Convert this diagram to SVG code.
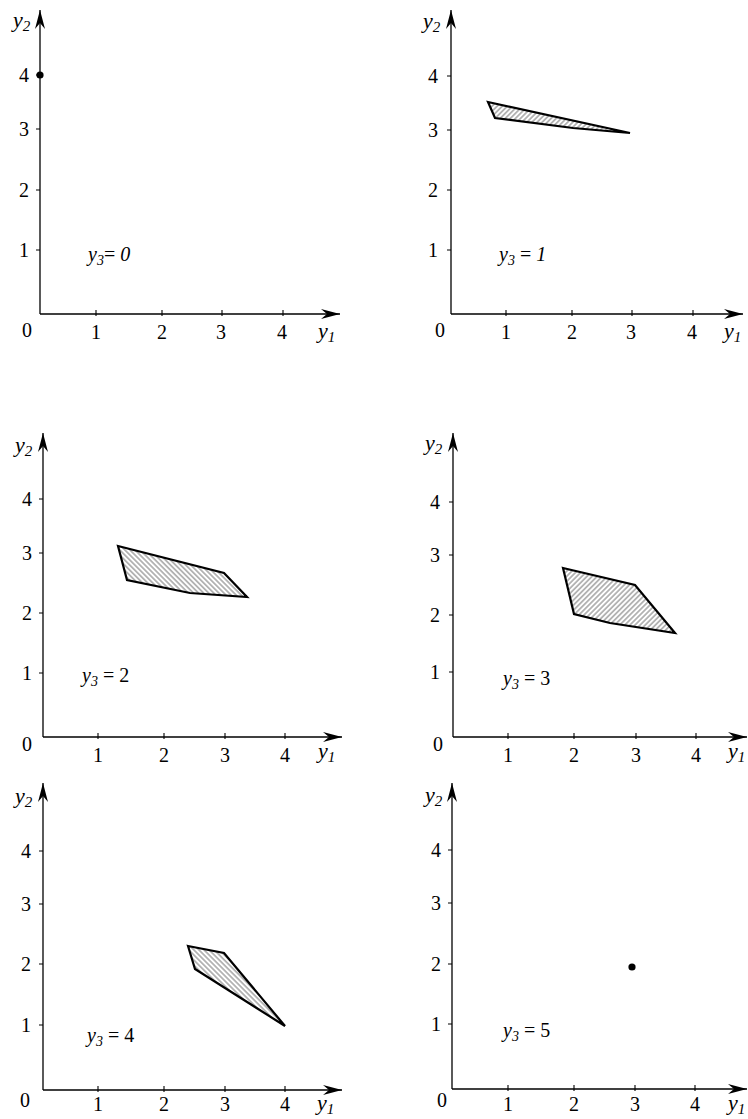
<svg xmlns="http://www.w3.org/2000/svg" width="748" height="1119" viewBox="0 0 748 1119" font-family="Liberation Serif, serif">
<style>
.ax{stroke:#000;stroke-width:1.3;fill:none}
.tk{stroke:#000;stroke-width:1.1}
.arr{marker-end:url(#ah)}
.num{font-size:20px;fill:#000}
.c{text-anchor:middle}
.var{font-size:22px;font-style:italic;fill:#000}
.lab{font-size:20px;fill:#000}
.poly{stroke:#000;stroke-width:2.2;stroke-linejoin:miter}
.h1{fill:url(#hatchF)}
.h2{fill:url(#hatchB)}
</style>
<defs>
<marker id="ah" markerUnits="userSpaceOnUse" markerWidth="22" markerHeight="12" viewBox="-20 -6 22 12" refX="0" refY="0" orient="auto">
<path d="M0,0 L-19,-5 L-13,0 L-19,5 Z" fill="#000"/>
</marker>
<pattern id="hatchF" patternUnits="userSpaceOnUse" width="3.6" height="3.6" patternTransform="rotate(45)">
<line x1="1.8" y1="0" x2="1.8" y2="3.6" stroke="#666" stroke-width="0.9"/>
</pattern>
<pattern id="hatchB" patternUnits="userSpaceOnUse" width="3.6" height="3.6" patternTransform="rotate(-45)">
<line x1="1.8" y1="0" x2="1.8" y2="3.6" stroke="#666" stroke-width="0.9"/>
</pattern>
</defs>
<rect width="748" height="1119" fill="#fff"/>

<g id="panel-y3-0">
<g id="axes-1">
<line class="ax arr" x1="40" y1="314" x2="40" y2="10"/>
<line class="ax arr" x1="40" y1="314" x2="340" y2="314"/>
<path class="tk" d="M96,310V316M162,310V316M222,310V316M283,310V316M36,250H40M36,190H40M36,129H40M36,75H40"/>
</g>
<text class="var" x="13" y="27">y<tspan font-size="15" dy="4">2</tspan></text>
<text class="var" x="318" y="338">y<tspan font-size="15" dy="4">1</tspan></text>
<text class="num c" x="27" y="337">0</text>
<text class="num c" x="96" y="339">1</text>
<text class="num c" x="162" y="339">2</text>
<text class="num c" x="221" y="339">3</text>
<text class="num c" x="282" y="339">4</text>
<text class="num c" x="24" y="257">1</text>
<text class="num c" x="24" y="197">2</text>
<text class="num c" x="24" y="136">3</text>
<text class="num c" x="24" y="82">4</text>
<circle cx="40" cy="75" r="3.6" fill="#000"/>
<text class="lab" x="88" y="261"><tspan font-style="italic">y</tspan><tspan font-size="14" font-style="italic" dy="4">3</tspan><tspan dy="-4">= </tspan><tspan font-style="italic">0</tspan></text>
</g>

<g id="panel-y3-1">
<g id="axes-2">
<line class="ax arr" x1="451" y1="314" x2="451" y2="10"/>
<line class="ax arr" x1="451" y1="314" x2="743" y2="314"/>
<path class="tk" d="M506,310V316M572,310V316M632,310V316M693,310V316M447,250H451M447,190H451M447,130H451M447,76H451"/>
</g>
<text class="var" x="423" y="28">y<tspan font-size="15" dy="4">2</tspan></text>
<text class="var" x="724" y="338">y<tspan font-size="15" dy="4">1</tspan></text>
<text class="num c" x="440" y="337">0</text>
<text class="num c" x="506" y="339">1</text>
<text class="num c" x="572" y="339">2</text>
<text class="num c" x="631" y="339">3</text>
<text class="num c" x="692" y="339">4</text>
<text class="num c" x="433" y="257">1</text>
<text class="num c" x="433" y="197">2</text>
<text class="num c" x="433" y="137">3</text>
<text class="num c" x="433" y="83">4</text>
<polygon class="poly h1" points="488,102 630,133 573,128 495,118"/>
<text class="lab" x="499" y="261"><tspan font-style="italic">y</tspan><tspan font-size="14" font-style="italic" dy="4">3</tspan><tspan dy="-4"> = </tspan><tspan font-style="italic">1</tspan></text>
</g>

<g id="panel-y3-2">
<g id="axes-3">
<line class="ax arr" x1="43" y1="737" x2="43" y2="433"/>
<line class="ax arr" x1="43" y1="737" x2="342" y2="737"/>
<path class="tk" d="M98,733V739M164,733V739M225,733V739M285,733V739M39,673H43M39,613H43M39,553H43M39,499H43"/>
</g>
<text class="var" x="15" y="452">y<tspan font-size="15" dy="4">2</tspan></text>
<text class="var" x="318" y="758">y<tspan font-size="15" dy="4">1</tspan></text>
<text class="num c" x="27" y="751">0</text>
<text class="num c" x="98" y="762">1</text>
<text class="num c" x="164" y="762">2</text>
<text class="num c" x="225" y="762">3</text>
<text class="num c" x="285" y="762">4</text>
<text class="num c" x="27" y="680">1</text>
<text class="num c" x="27" y="620">2</text>
<text class="num c" x="27" y="560">3</text>
<text class="num c" x="27" y="506">4</text>
<polygon class="poly h2" points="118,546 224,573 247,597 190,593 127,580"/>
<text class="lab" x="82" y="682"><tspan font-style="italic">y</tspan><tspan font-size="14" font-style="italic" dy="4">3</tspan><tspan dy="-4"> = 2</tspan></text>
</g>

<g id="panel-y3-3">
<g id="axes-4">
<line class="ax arr" x1="453" y1="737" x2="453" y2="433"/>
<line class="ax arr" x1="453" y1="737" x2="747" y2="737"/>
<path class="tk" d="M508,733V739M574,733V739M636,733V739M696,733V739M449,672H453M449,615H453M449,555H453M449,502H453"/>
</g>
<text class="var" x="425" y="450">y<tspan font-size="15" dy="4">2</tspan></text>
<text class="var" x="728" y="758">y<tspan font-size="15" dy="4">1</tspan></text>
<text class="num c" x="438" y="751">0</text>
<text class="num c" x="508" y="762">1</text>
<text class="num c" x="574" y="762">2</text>
<text class="num c" x="636" y="762">3</text>
<text class="num c" x="696" y="762">4</text>
<text class="num c" x="435" y="679">1</text>
<text class="num c" x="435" y="622">2</text>
<text class="num c" x="435" y="562">3</text>
<text class="num c" x="435" y="509">4</text>
<polygon class="poly h1" points="563,568 635,585 675,633 610,623 574,614"/>
<text class="lab" x="503" y="685"><tspan font-style="italic">y</tspan><tspan font-size="14" font-style="italic" dy="4">3</tspan><tspan dy="-4"> = 3</tspan></text>
</g>

<g id="panel-y3-4">
<g id="axes-5">
<line class="ax arr" x1="43" y1="1090" x2="43" y2="783"/>
<line class="ax arr" x1="43" y1="1090" x2="342" y2="1090"/>
<path class="tk" d="M98,1086V1092M164,1086V1092M225,1086V1092M285,1086V1092M39,1025H43M39,964H43M39,904H43M39,851H43"/>
</g>
<text class="var" x="15" y="803">y<tspan font-size="15" dy="4">2</tspan></text>
<text class="var" x="317" y="1110">y<tspan font-size="15" dy="4">1</tspan></text>
<text class="num c" x="25" y="1107">0</text>
<text class="num c" x="98" y="1111">1</text>
<text class="num c" x="164" y="1111">2</text>
<text class="num c" x="225" y="1111">3</text>
<text class="num c" x="285" y="1111">4</text>
<text class="num c" x="26" y="1032">1</text>
<text class="num c" x="26" y="971">2</text>
<text class="num c" x="26" y="911">3</text>
<text class="num c" x="26" y="858">4</text>
<polygon class="poly h2" points="188,946 224,953 285,1026 195,969"/>
<text class="lab" x="87" y="1042"><tspan font-style="italic">y</tspan><tspan font-size="14" font-style="italic" dy="4">3</tspan><tspan dy="-4"> = 4</tspan></text>
</g>

<g id="panel-y3-5">
<g id="axes-6">
<line class="ax arr" x1="452" y1="1089" x2="452" y2="783"/>
<line class="ax arr" x1="452" y1="1089" x2="747" y2="1089"/>
<path class="tk" d="M508,1085V1091M574,1085V1091M635,1085V1091M695,1085V1091M448,1024H452M448,964H452M448,903H452M448,850H452"/>
</g>
<text class="var" x="425" y="802">y<tspan font-size="15" dy="4">2</tspan></text>
<text class="var" x="728" y="1110">y<tspan font-size="15" dy="4">1</tspan></text>
<text class="num c" x="442" y="1107">0</text>
<text class="num c" x="508" y="1111">1</text>
<text class="num c" x="574" y="1111">2</text>
<text class="num c" x="635" y="1111">3</text>
<text class="num c" x="695" y="1111">4</text>
<text class="num c" x="436" y="1031">1</text>
<text class="num c" x="436" y="971">2</text>
<text class="num c" x="436" y="910">3</text>
<text class="num c" x="436" y="857">4</text>
<circle cx="632" cy="967" r="3.6" fill="#000"/>
<text class="lab" x="503" y="1037"><tspan font-style="italic">y</tspan><tspan font-size="14" font-style="italic" dy="4">3</tspan><tspan dy="-4"> = 5</tspan></text>
</g>
</svg>
